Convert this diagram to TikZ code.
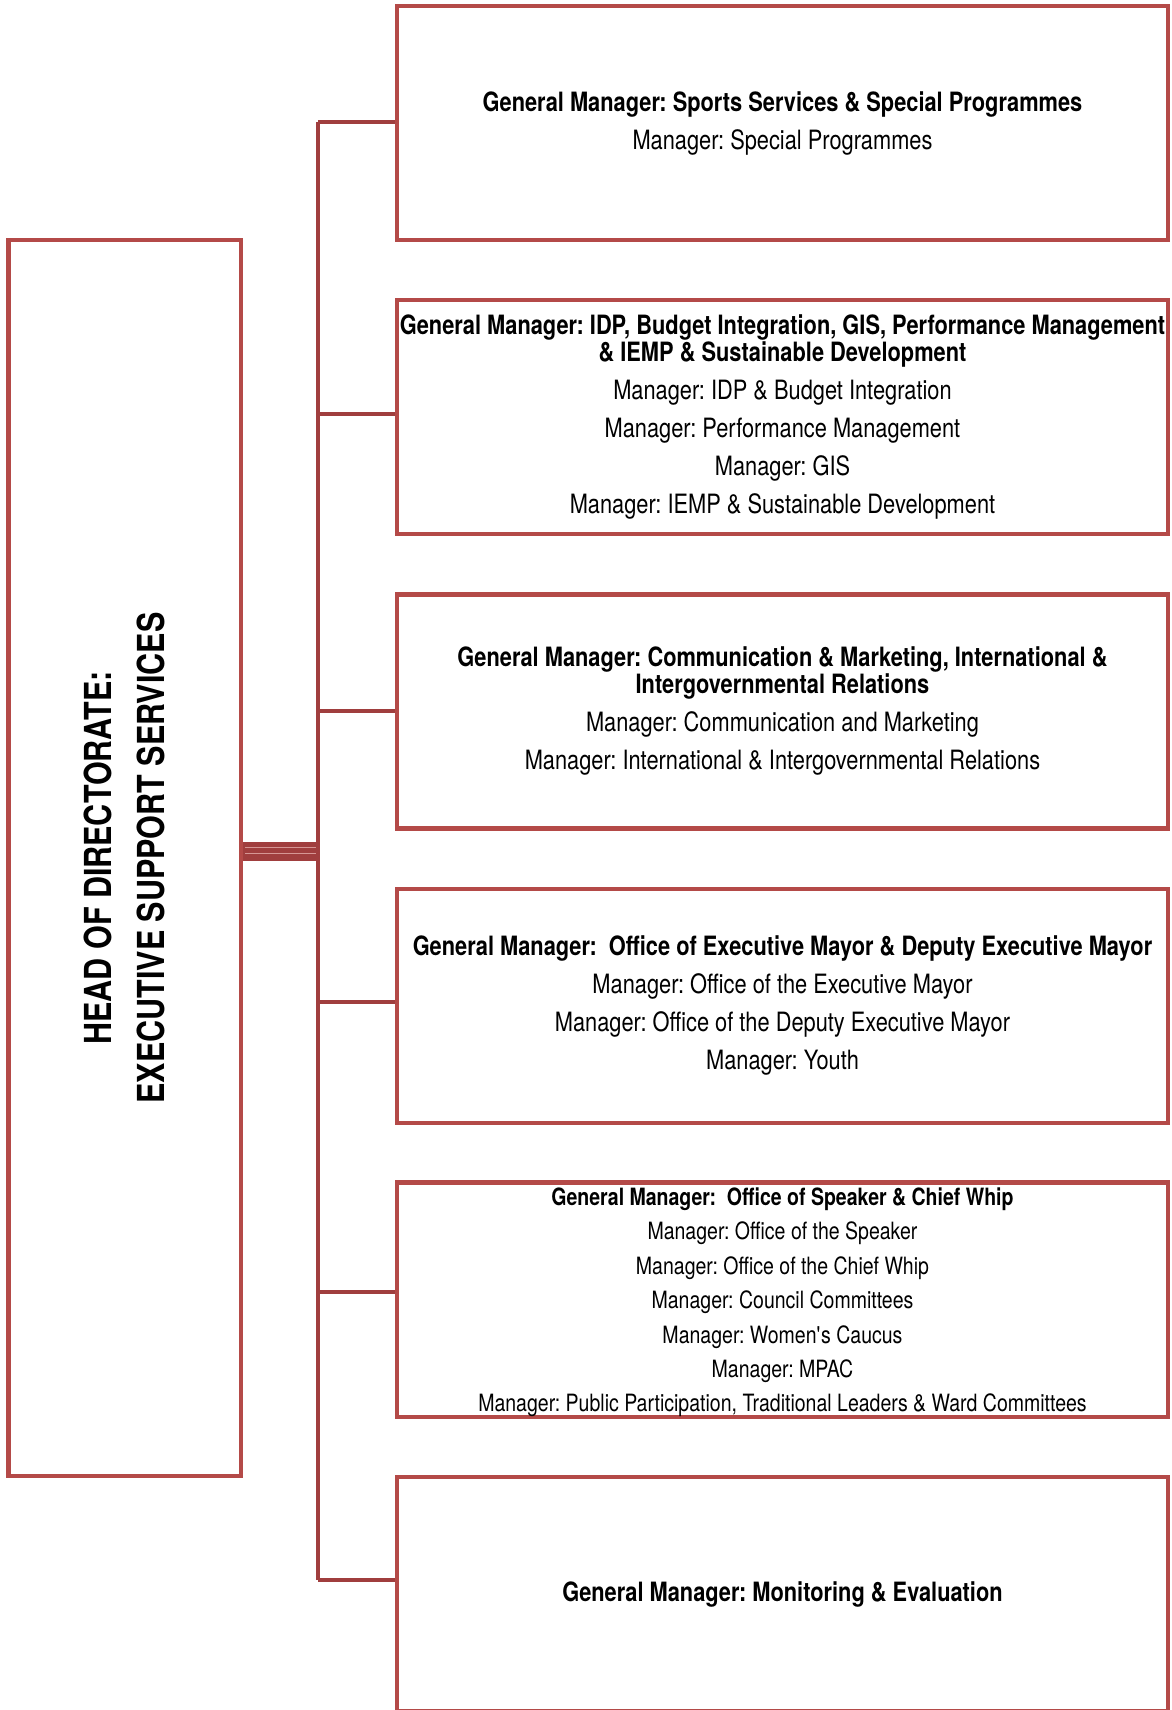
\documentclass[tikz,border=0pt]{standalone}
\usepackage{fontspec}
\setmainfont{TeX Gyre Heros}[FakeStretch=0.82]
\frenchspacing
\definecolor{boxred}{RGB}{180,74,72}
\definecolor{connred}{RGB}{160,62,62}
\definecolor{gapred}{RGB}{214,150,148}
\begin{document}
\begin{tikzpicture}[x=0.5pt,y=-0.5pt,
  gmbox/.style={draw=boxred,line width=2.1pt,minimum width=385.5pt,minimum height=117pt,
    inner sep=0pt,align=center,font=\frenchspacing\fontsize{13.3}{19}\selectfont},
  smallbox/.style={gmbox,font=\frenchspacing\fontsize{11.9}{17.2}\selectfont},
  headbox/.style={draw=boxred,line width=2.1pt,rotate=90,minimum width=618pt,minimum height=116.25pt,
    inner sep=0pt,align=center,font=\bfseries\fontsize{18.6}{26.5}\selectfont},
  conn/.style={draw=connred,line width=2.3pt}]
\useasboundingbox (0,0) rectangle (1172,1710);

\node[headbox] (head) at (124.75,858) {HEAD OF DIRECTORATE:\\EXECUTIVE SUPPORT SERVICES};

\node[gmbox] (b1) at (782.5,123) {\textbf{General Manager: Sports Services \& Special Programmes}\\
  Manager: Special Programmes};
\node[gmbox] (b2) at (782.5,417.2) {\textbf{General Manager: IDP, Budget Integration, GIS, Performance Management}\\[-5.5pt]
  \textbf{\& IEMP \& Sustainable Development}\\
  Manager: IDP \& Budget Integration\\
  Manager: Performance Management\\
  Manager: GIS\\
  Manager: IEMP \& Sustainable Development};
\node[gmbox] (b3) at (782.5,711.4) {\textbf{General Manager: Communication \& Marketing, International \&}\\[-5.5pt]
  \textbf{Intergovernmental Relations}\\
  Manager: Communication and Marketing\\
  Manager: International \& Intergovernmental Relations};
\node[gmbox] (b4) at (782.5,1005.6) {\textbf{General Manager:\ \ Office of Executive Mayor \& Deputy Executive Mayor}\\
  Manager: Office of the Executive Mayor\\
  Manager: Office of the Deputy Executive Mayor\\
  Manager: Youth};
\node[smallbox] (b5) at (782.5,1299.8) {\rule{0pt}{11.5pt}\textbf{General Manager:\ \ Office of Speaker \& Chief Whip}\\
  Manager: Office of the Speaker\\
  Manager: Office of the Chief Whip\\
  Manager: Council Committees\\
  Manager: Women\textquotesingle s Caucus\\
  Manager: MPAC\\
  Manager: Public Participation, Traditional Leaders \& Ward Committees};
\node[gmbox] (b6) at (782.5,1594) {\textbf{General Manager: Monitoring \& Evaluation}};

% trunk and branches
\coordinate (t1) at (318,122);
\coordinate (t2) at (318,414);
\coordinate (t3) at (318,711);
\coordinate (t4) at (318,1002);
\coordinate (t5) at (318,1292);
\coordinate (t6) at (318,1580);
\draw[conn] (t1) -- (t6);
\foreach \i in {1,...,6}{\draw[conn] (t\i) -- (t\i -| b\i.west);}

% thick link from head
\coordinate (hub) at (318,851.5);
\draw[connred,line width=9.5pt] (hub -| head.south) -- (hub);
\coordinate (g1) at (318,847.3);
\coordinate (g2) at (318,853);
\draw[gapred,line width=0.4pt] ([xshift=1pt]g1 -| head.south) -- ([xshift=-1.2pt]g1);
\draw[gapred,line width=0.4pt] ([xshift=1pt]g2 -| head.south) -- ([xshift=-1.2pt]g2);
\end{tikzpicture}
\end{document}
